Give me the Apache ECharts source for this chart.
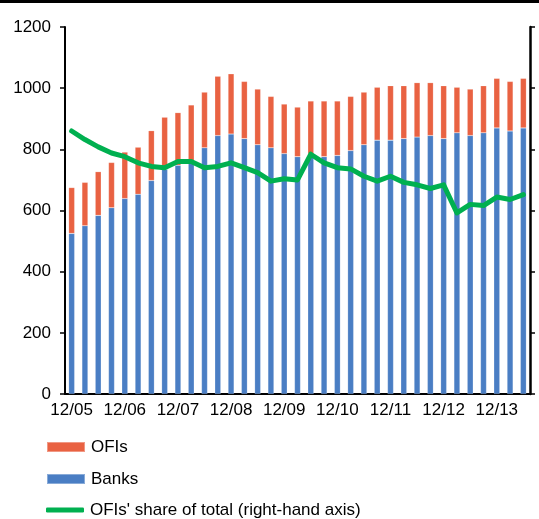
<!DOCTYPE html>
<html>
<head>
<meta charset="utf-8">
<script src="https://cdn.jsdelivr.net/npm/echarts@6/dist/echarts.min.js"></script>
<style>
  html, body { margin: 0; padding: 0; background: #fff; }
  #chart { width: 539px; height: 519px; }
</style>
</head>
<body>
<div id="chart"></div>
<script>
// Quarter-end dates, Dec 2005 to Jun 2014
const categories = [
  '12/05','03/06','06/06','09/06','12/06','03/07','06/07','09/07',
  '12/07','03/08','06/08','09/08','12/08','03/09','06/09','09/09',
  '12/09','03/10','06/10','09/10','12/10','03/11','06/11','09/11',
  '12/11','03/12','06/12','09/12','12/12','03/13','06/13','09/13',
  '12/13','03/14','06/14'
];

// Bank claims (left-hand axis)
const banks = [
  525, 550, 584, 609, 639, 653, 698, 735,
  748, 760, 805, 845, 850, 835, 815, 805,
  786, 776, 785, 776, 780, 796, 815, 830,
  830, 835, 840, 845, 835, 854, 845, 854,
  870, 860, 870
];

// Claims on other financial institutions (left-hand axis)
const ofis = [
  150, 142, 143, 148, 152, 154, 163, 170,
  172, 185, 182, 194, 197, 187, 182, 168,
  162, 162, 173, 182, 178, 177, 172, 173,
  178, 173, 178, 173, 173, 149, 152, 154,
  162, 162, 162
];

// OFIs' share of total, per cent (right-hand axis)
const ofiShare = [
  21.5, 20.8, 20.2, 19.7, 19.4, 18.9, 18.6, 18.5,
  19.0, 19.0, 18.5, 18.6, 18.9, 18.5, 18.1, 17.4,
  17.6, 17.5, 19.6, 18.9, 18.5, 18.4, 17.8, 17.4,
  17.8, 17.3, 17.1, 16.8, 17.1, 14.8, 15.5, 15.4,
  16.1, 15.9, 16.3
];

const leftTicks = [0, 200, 400, 600, 800, 1000, 1200];

const SERIES_OFI = 'OFIs';
const SERIES_BANKS = 'Banks';
const SERIES_SHARE = "OFIs' share of total (right-hand axis)";

const FONT = '"Liberation Sans", Arial, sans-serif';
const FS = 17;
const chart = echarts.init(document.getElementById('chart'), null, { renderer: 'canvas' });

// One single-entry legend per row, stacked under the plot
function legendRow(name, top, icon, height) {
  return {
    orient: 'vertical',
    left: 46,
    top: top,
    padding: 0,
    itemWidth: 38,
    itemHeight: height,
    icon: icon,
    selectedMode: false,
    textStyle: { fontFamily: FONT, fontSize: FS, color: '#000', lineHeight: 20, padding: [0, 0, 0, 1] },
    data: [name]
  };
}

chart.setOption({
  animation: false,
  backgroundColor: '#ffffff',
  textStyle: { fontFamily: FONT, color: '#000' },
  graphic: [
    { type: 'rect', left: 0, top: 0, shape: { width: 539, height: 3 }, style: { fill: '#000' } }
  ],
  grid: { left: 65, right: 9, top: 27, bottom: 125, containLabel: false },
  legend: [
    legendRow(SERIES_OFI, 437, 'rect', 10),
    legendRow(SERIES_BANKS, 469, 'rect', 10),
    legendRow(SERIES_SHARE, 500, 'roundRect', 5)
  ],
  xAxis: {
    type: 'category',
    data: categories,
    boundaryGap: true,
    axisLine: { show: true, lineStyle: { color: '#000', width: 2 } },
    axisTick: { show: false },
    axisLabel: { interval: 3, fontSize: FS, color: '#000', fontFamily: FONT, margin: 8 },
    splitLine: { show: false }
  },
  yAxis: [
    {
      type: 'value',
      min: leftTicks[0],
      max: leftTicks[leftTicks.length - 1],
      interval: 200,
      position: 'left',
      axisLine: { show: true, lineStyle: { color: '#000', width: 2 } },
      axisTick: { show: true, length: 5, lineStyle: { color: '#000', width: 1.5 } },
      axisLabel: { fontSize: FS, color: '#000', fontFamily: FONT, margin: 14,
                   formatter: v => String(v) },
      splitLine: { show: false }
    },
    {
      type: 'value',
      min: 0,
      max: 30,
      interval: 5,
      position: 'right',
      axisLine: { show: true, lineStyle: { color: '#000', width: 2.5 } },
      axisTick: { show: true, length: 5, lineStyle: { color: '#000', width: 1.5 } },
      axisLabel: { show: false },
      splitLine: { show: false }
    }
  ],
  series: [
    {
      name: SERIES_BANKS,
      type: 'bar',
      stack: 'claims',
      data: banks,
      barWidth: 6,
      itemStyle: { color: '#4A7EC4', borderColor: 'rgba(255,255,255,0.35)', borderWidth: 0.5 }
    },
    {
      name: SERIES_OFI,
      type: 'bar',
      stack: 'claims',
      data: ofis,
      barWidth: 6,
      itemStyle: { color: '#E96242', borderColor: 'rgba(255,255,255,0.35)', borderWidth: 0.5 }
    },
    {
      name: SERIES_SHARE,
      type: 'line',
      yAxisIndex: 1,
      data: ofiShare,
      symbol: 'none',
      smooth: false,
      lineStyle: { color: '#00B050', width: 5, join: 'round', cap: 'round' },
      itemStyle: { color: '#00B050' },
      z: 5
    }
  ]
});
</script>
</body>
</html>
